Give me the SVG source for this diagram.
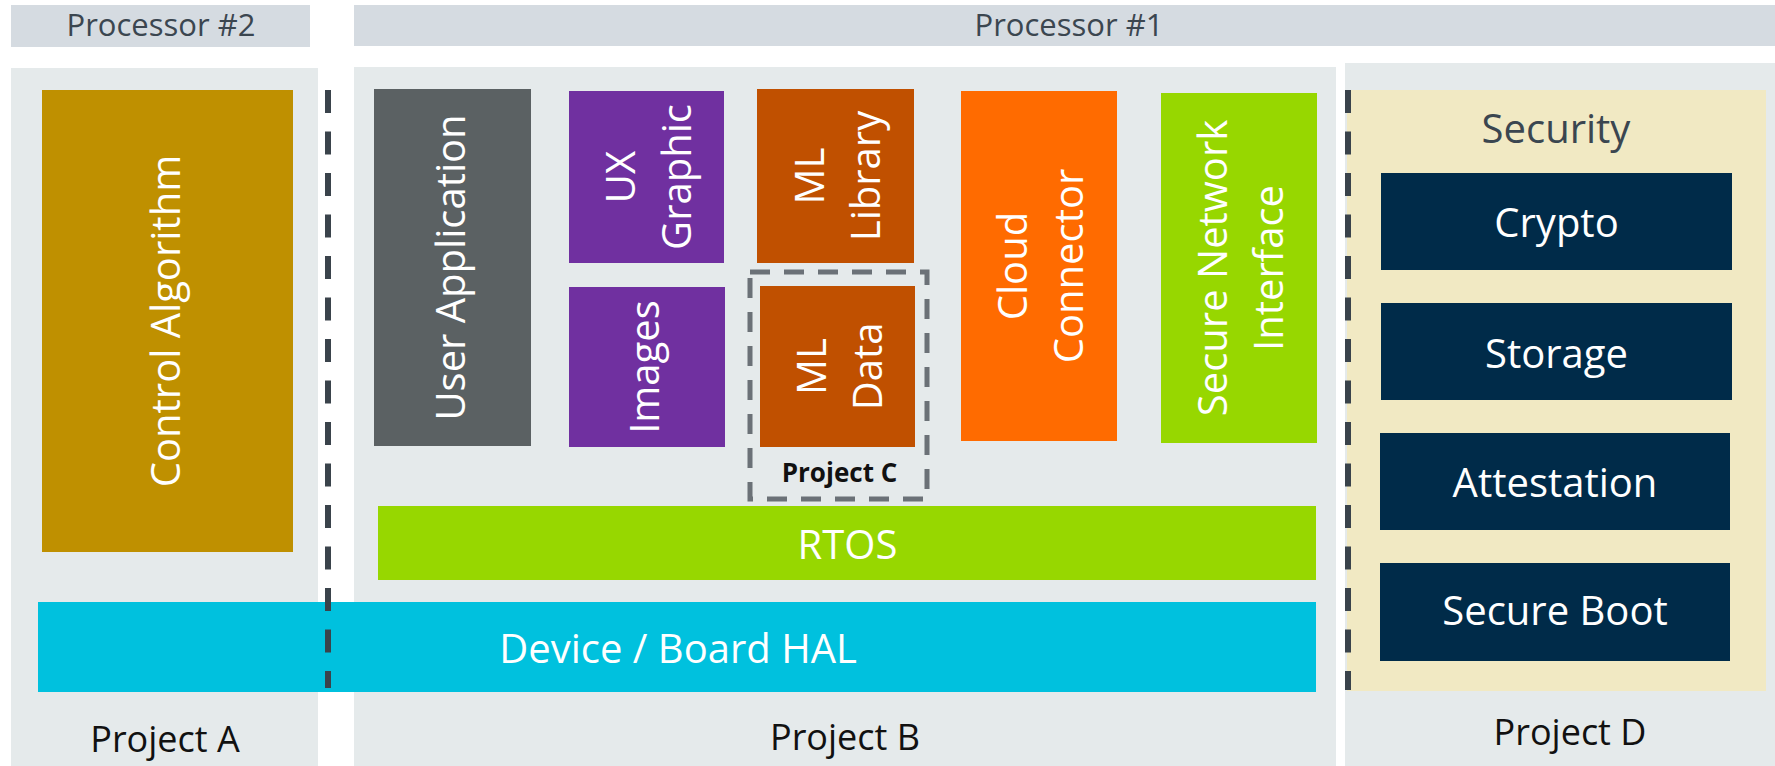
<svg xmlns="http://www.w3.org/2000/svg" width="1775" height="766" viewBox="0 0 1775 766">
<style>
.hdr{fill:#d5dbe1}
.hdrt{font-family:"Open Sans","Liberation Sans",sans-serif;font-size:31px;fill:#3b4650;text-anchor:middle}
.panel{fill:#e5eaeb}
.wt{font-family:"Open Sans","Liberation Sans",sans-serif;font-size:40px;fill:#ffffff;text-anchor:middle}
.lbl{font-family:"Open Sans","Liberation Sans",sans-serif;font-size:36px;fill:#111111;text-anchor:middle}
.sep{stroke:#3a434b;stroke-width:6;stroke-dasharray:23 18.5;fill:none}
.navy{fill:#002b49}
</style>
<rect width="1775" height="766" fill="#ffffff"/>
<g id="headers">
<rect class="hdr" x="11" y="5" width="299" height="42"/>
<text class="hdrt" x="161" y="36">Processor #2</text>
<rect class="hdr" x="354" y="5" width="1421" height="41"/>
<text class="hdrt" x="1069" y="36">Processor #1</text>
</g>
<g id="projectA">
<rect class="panel" x="11" y="68" width="307" height="698"/>
<text class="lbl" x="165" y="752">Project A</text>
</g>
<g id="projectB">
<rect class="panel" x="354" y="67" width="982" height="699"/>
<text class="lbl" x="845" y="750">Project B</text>
</g>
<g id="projectD">
<rect class="panel" x="1345" y="63" width="430" height="703"/>
<text class="lbl" x="1570" y="745">Project D</text>
</g>
<g id="security">
<rect x="1347" y="90" width="419" height="601" fill="#f1e9c3"/>
<text x="1556" y="143" style="font-family:'Open Sans','Liberation Sans',sans-serif;font-size:40px;fill:#3b4650;text-anchor:middle">Security</text>
</g>
<g id="control-algorithm">
<rect x="42" y="90" width="251" height="462" fill="#bf9000"/>
<text class="wt" transform="translate(180,321) rotate(-90)">Control Algorithm</text>
</g>
<g id="user-application">
<rect x="374" y="89" width="157" height="357" fill="#5b6163"/>
<text class="wt" transform="translate(465,267.5) rotate(-90)">User Application</text>
</g>
<g id="ux-graphic">
<rect x="569" y="91" width="155" height="172" fill="#7030a0"/>
<text class="wt" transform="translate(634.5,177) rotate(-90)">UX</text>
<text class="wt" transform="translate(690.5,177) rotate(-90)">Graphic</text>
</g>
<g id="images">
<rect x="569" y="287" width="156" height="160" fill="#7030a0"/>
<text class="wt" transform="translate(659,367) rotate(-90)">Images</text>
</g>
<g id="ml-library">
<rect x="757" y="89" width="157" height="174" fill="#c05000"/>
<text class="wt" transform="translate(823.5,176) rotate(-90)">ML</text>
<text class="wt" transform="translate(879.5,176) rotate(-90)">Library</text>
</g>
<g id="project-c">
<rect x="750" y="272" width="177" height="227" fill="none" stroke="#6b7177" stroke-width="5" stroke-dasharray="20 14"/>
<text x="839.5" y="482" style="font-family:'Open Sans','Liberation Sans',sans-serif;font-size:26px;font-weight:bold;fill:#111111;text-anchor:middle">Project C</text>
</g>
<g id="ml-data">
<rect x="760" y="286" width="155" height="161" fill="#c05000"/>
<text class="wt" transform="translate(825.5,366.5) rotate(-90)">ML</text>
<text class="wt" transform="translate(881.5,366.5) rotate(-90)">Data</text>
</g>
<g id="cloud-connector">
<rect x="961" y="91" width="156" height="350" fill="#ff6b00"/>
<text class="wt" transform="translate(1027,266) rotate(-90)">Cloud</text>
<text class="wt" transform="translate(1083,266) rotate(-90)">Connector</text>
</g>
<g id="secure-network-interface">
<rect x="1161" y="93" width="156" height="350" fill="#97d700"/>
<text class="wt" transform="translate(1227,268) rotate(-90)">Secure Network</text>
<text class="wt" transform="translate(1283,268) rotate(-90)">Interface</text>
</g>
<g id="rtos">
<rect x="378" y="506" width="938" height="74" fill="#97d700"/>
<text class="wt" x="847.5" y="559">RTOS</text>
</g>
<g id="hal">
<rect x="38" y="602" width="1278" height="90" fill="#00c1de"/>
<text class="wt" x="678" y="663">Device / Board HAL</text>
</g>
<g id="crypto">
<rect class="navy" x="1381" y="173" width="351" height="97"/>
<text class="wt" x="1556.5" y="237">Crypto</text>
</g>
<g id="storage">
<rect class="navy" x="1381" y="303" width="351" height="97"/>
<text class="wt" x="1556.5" y="368">Storage</text>
</g>
<g id="attestation">
<rect class="navy" x="1380" y="433" width="350" height="97"/>
<text class="wt" x="1555" y="497">Attestation</text>
</g>
<g id="secure-boot">
<rect class="navy" x="1380" y="563" width="350" height="98"/>
<text class="wt" x="1555" y="625">Secure Boot</text>
</g>
<g id="connectors">
<line class="sep" x1="328" y1="90" x2="328" y2="688"/>
<line class="sep" x1="1348" y1="90" x2="1348" y2="690"/>
</g>
</svg>
